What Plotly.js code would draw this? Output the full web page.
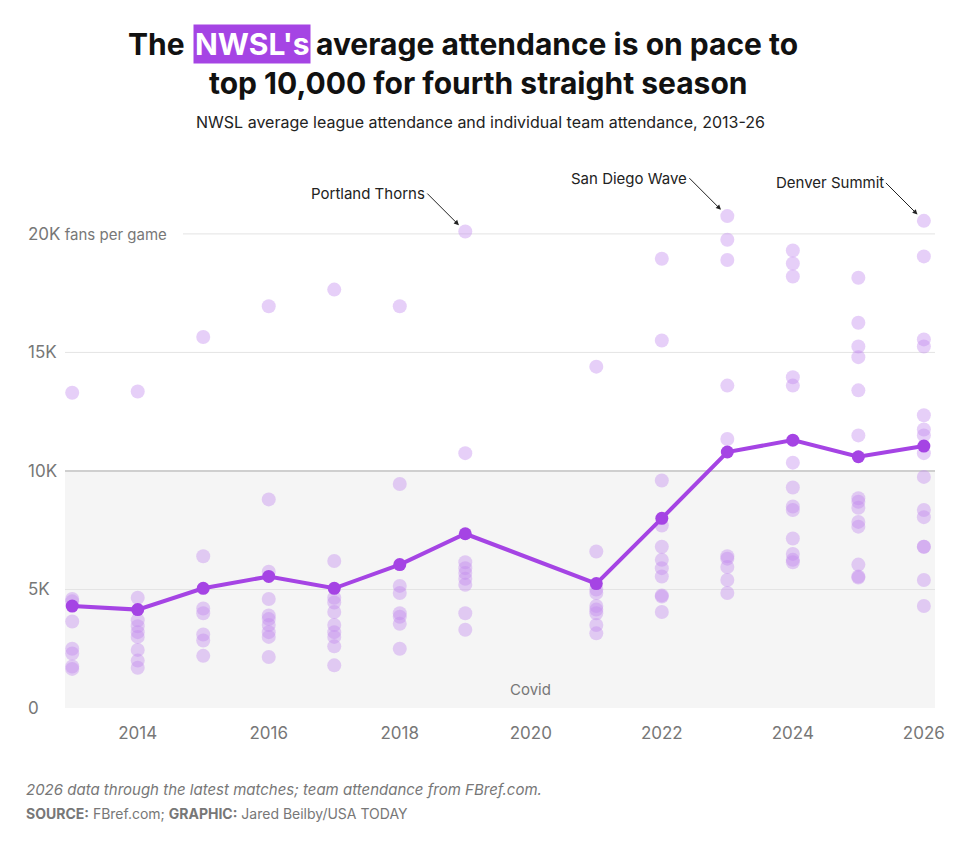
<!DOCTYPE html>
<html>
<head>
<meta charset="utf-8">
<script src="https://cdn.plot.ly/plotly-3.0.1.min.js"></script>
<style>body{margin:0;background:#fff}#chart{width:960px;height:850px}</style>
</head>
<body>
<div id="chart"></div>
<script>
// attendance in thousands of fans per game
const years = [2013, 2014, 2015, 2016, 2017, 2018, 2019, 2021, 2022, 2023, 2024, 2025, 2026];
const leagueAvg = [4.3, 4.15, 5.05, 5.55, 5.05, 6.05, 7.35, 5.25, 8.0, 10.8, 11.3, 10.6, 11.05];
const teamAtt = [
  [13.3, 4.6, 4.5, 3.65, 2.5, 2.3, 1.75, 1.65],
  [13.35, 4.65, 3.7, 3.45, 3.2, 3.0, 2.45, 2.0, 1.7],
  [15.65, 6.4, 4.2, 4.0, 3.1, 2.85, 2.2],
  [16.95, 8.8, 5.75, 4.6, 3.9, 3.75, 3.5, 3.2, 3.0, 2.15],
  [17.65, 6.2, 4.65, 4.45, 4.05, 3.5, 3.2, 3.0, 2.6, 1.8],
  [16.95, 9.45, 5.15, 4.85, 4.0, 3.85, 3.55, 2.5],
  [20.1, 10.75, 6.15, 5.9, 5.7, 5.45, 5.2, 4.0, 3.3],
  [14.4, 6.6, 5.0, 4.85, 4.3, 4.15, 4.0, 3.5, 3.15],
  [18.95, 15.5, 9.6, 7.7, 6.8, 6.25, 5.9, 5.55, 4.75, 4.7, 4.05],
  [20.75, 19.75, 18.9, 13.6, 11.35, 6.4, 6.3, 5.95, 5.4, 4.85],
  [19.3, 18.75, 18.2, 13.95, 13.6, 10.35, 9.3, 8.5, 8.35, 7.15, 6.5, 6.25, 6.15],
  [18.15, 16.25, 15.25, 14.8, 13.4, 11.5, 8.85, 8.7, 8.45, 7.85, 7.65, 6.05, 5.55, 5.5],
  [20.55, 19.05, 15.55, 15.25, 12.35, 11.75, 11.5, 10.75, 9.75, 8.35, 8.05, 6.8, 6.8, 5.4, 4.3]
];
const yTicks = [0, 5, 10, 15, 20];
const yTickText = ['0', '5K', '10K', '15K', '20K fans per game'];
const xTicks = [2014, 2016, 2018, 2020, 2022, 2024, 2026];
const callouts = [
  {year: 2019, value: 20.1, label: 'Portland Thorns'},
  {year: 2023, value: 20.75, label: 'San Diego Wave'},
  {year: 2026, value: 20.55, label: 'Denver Summit'}
];

const teamX = [], teamY = [];
teamAtt.forEach((vals, i) => vals.forEach(v => { teamX.push(years[i]); teamY.push(v); }));

const ML = 65, MR = 25, W = 960, PW = W - ML - MR;
const px = p => (p - ML) / PW;
const font = 'Inter, "Open Sans", sans-serif';

const traces = [
  {x: teamX, y: teamY, type: 'scatter', mode: 'markers', hoverinfo: 'y',
   marker: {size: 14, color: 'rgba(196,140,238,0.42)'}},
  {x: years, y: leagueAvg, type: 'scatter', mode: 'lines+markers',
   line: {color: '#a544e4', width: 4}, marker: {size: 13, color: '#a544e4'}}
];

const annotations = yTicks.map((t, i) => ({
  xref: 'paper', yref: 'y', x: px(26), y: t, xanchor: 'left', yanchor: 'middle',
  text: yTickText[i], showarrow: false, bgcolor: i === 4 ? '#fff' : 'rgba(0,0,0,0)',
  font: {family: font, size: i === 4 ? 15 : 17, color: '#777'}
}));
annotations[4].text = '<span style="font-size:17px">20K</span> fans per game';

callouts.forEach(c => annotations.push({
  x: c.year, y: c.value, xref: 'x', yref: 'y', text: c.label, showarrow: true,
  arrowhead: 2, arrowsize: 1, arrowwidth: 1, arrowcolor: '#222',
  ax: -38, ay: -38, xanchor: 'right', standoff: 9,
  font: {family: font, size: 15, color: '#222'}
}));

const TS = 30;
annotations.push(
  {x: 2020, y: 0.8, xref: 'x', yref: 'y', text: 'Covid', showarrow: false,
   font: {family: font, size: 15, color: '#777'}},
  {xref: 'paper', yref: 'paper', x: px(187), y: 1, yanchor: 'bottom', yshift: 136, xanchor: 'right',
   text: '<b>The</b>', showarrow: false, font: {family: font, size: TS, color: '#111'}},
  {xref: 'paper', yref: 'paper', x: px(252), y: 1, yanchor: 'bottom', yshift: 136, xanchor: 'center',
   text: "<b>NWSL's</b>", showarrow: false, bgcolor: '#a544e4', borderpad: 1,
   font: {family: font, size: TS, color: '#fff'}},
  {xref: 'paper', yref: 'paper', x: px(314), y: 1, yanchor: 'bottom', yshift: 136, xanchor: 'left',
   text: '<b>average attendance is on pace to</b>', showarrow: false, font: {family: font, size: TS, color: '#111'}},
  {xref: 'paper', yref: 'paper', x: px(478), y: 1, yanchor: 'bottom', yshift: 97, xanchor: 'center',
   text: '<b>top 10,000 for fourth straight season</b>', showarrow: false, font: {family: font, size: TS, color: '#111'}},
  {xref: 'paper', yref: 'paper', x: px(480), y: 1, yanchor: 'bottom', yshift: 66, xanchor: 'center',
   text: 'NWSL average league attendance and individual team attendance, 2013-26', showarrow: false,
   font: {family: font, size: 16, color: '#222'}},
  {xref: 'paper', yref: 'paper', x: px(24), y: 0, yanchor: 'top', yshift: -70, xanchor: 'left',
   text: '<i>2026 data through the latest matches; team attendance from FBref.com.</i>', showarrow: false,
   font: {family: font, size: 15, color: '#777'}},
  {xref: 'paper', yref: 'paper', x: px(24), y: 0, yanchor: 'top', yshift: -95, xanchor: 'left',
   text: '<b>SOURCE:</b> FBref.com; <b>GRAPHIC:</b> Jared Beilby/USA TODAY', showarrow: false,
   font: {family: font, size: 14, color: '#777'}}
);

const shapes = [
  {type: 'rect', xref: 'paper', yref: 'y', x0: 0, x1: 1, y0: 0, y1: 10,
   fillcolor: '#f5f5f5', line: {width: 0}, layer: 'below'},
  {type: 'line', xref: 'paper', yref: 'y', x0: 0, x1: 1, y0: 10, y1: 10,
   line: {color: '#cfcfcf', width: 2}, layer: 'below'}
];
[5, 15].forEach(v => shapes.push({type: 'line', xref: 'paper', yref: 'y', x0: 0, x1: 1, y0: v, y1: v,
  line: {color: '#e4e4e4', width: 1}, layer: 'below'}));
shapes.push({type: 'line', xref: 'paper', yref: 'y', x0: px(183), x1: 1, y0: 20, y1: 20,
  line: {color: '#e4e4e4', width: 1}, layer: 'below'});

Plotly.newPlot('chart', traces, {
  width: 960, height: 850, showlegend: false,
  margin: {l: ML, r: MR, t: 200, b: 142},
  paper_bgcolor: '#fff', plot_bgcolor: '#fff',
  xaxis: {range: [2012.89, 2026.17], tickvals: xTicks, showgrid: false, zeroline: false,
          ticks: 'outside', ticklen: 10, tickcolor: 'rgba(0,0,0,0)',
          tickfont: {family: font, size: 17, color: '#777'}, fixedrange: true},
  yaxis: {range: [0, 21.43], showgrid: false, zeroline: false, showticklabels: false, fixedrange: true},
  shapes: shapes, annotations: annotations
}, {displayModeBar: false});
</script>
</body>
</html>
